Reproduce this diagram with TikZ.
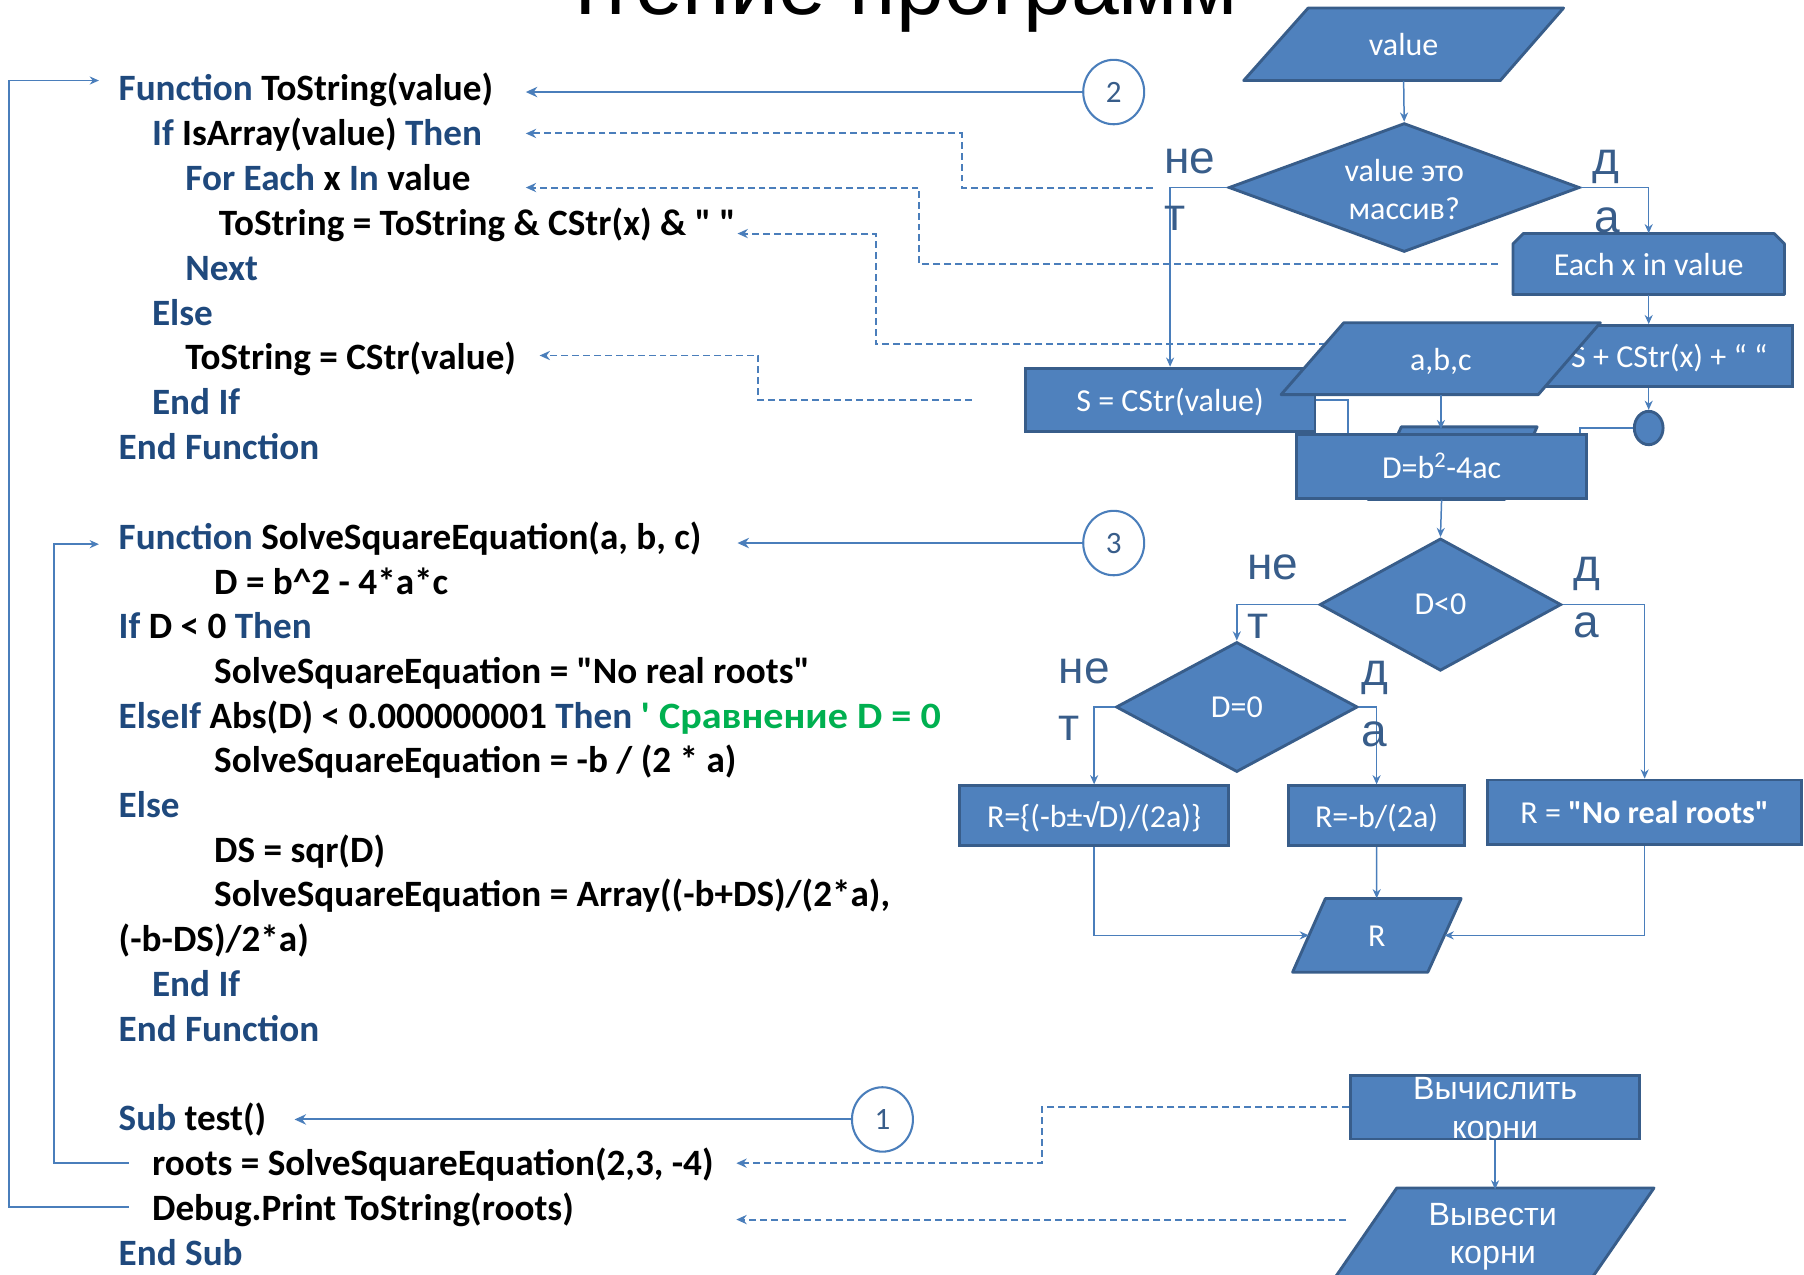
\documentclass[tikz,border=0pt]{standalone}
\usepackage{fontspec}
\usepackage{graphicx}
\setmainfont{Carlito}[Ligatures=TeXOff]
\newfontfamily\codefont{Carlito}[Ligatures=TeXOff]
\newfontfamily\arialfont{Liberation Sans}
\usetikzlibrary{arrows.meta,shapes.geometric}

\definecolor{kwblue}{RGB}{31,73,125}
\definecolor{shapefill}{RGB}{79,129,189}
\definecolor{shapeedge}{RGB}{56,93,138}
\definecolor{linkblue}{RGB}{74,126,187}
\definecolor{lblblue}{RGB}{56,93,138}
\definecolor{cmtgreen}{RGB}{0,176,80}

\newcommand\kw[1]{\textcolor{kwblue}{#1}}
\newcommand\cmt[1]{\textcolor{cmtgreen}{\scalebox{1.08}[1]{#1}}}

\tikzset{
  code/.style={anchor=base west, inner sep=0pt, text=black, font=\codefont\bfseries\fontsize{32.3}{38}\selectfont},
  flow/.style={font=\fontsize{27.8}{33}\selectfont, text=white},
  ftxt/.style={flow, inner sep=0pt, text height=25pt, text depth=5pt},
  box/.style={ftxt, rectangle, draw=shapeedge, fill=shapefill, line width=2.5pt},
  shp/.style={draw=shapeedge, fill=shapefill, line width=2.5pt, line join=round},
  dia/.style={diamond, draw=shapeedge, fill=shapefill, line width=2.5pt, inner sep=0pt, flow},
  lbl/.style={anchor=base west, inner sep=0pt, text=lblblue, font=\arialfont\fontsize{40}{48}\selectfont},
  num/.style={ellipse, draw=linkblue, line width=1.8pt, fill=white, inner sep=0pt, minimum width=53pt, minimum height=56pt, text=lblblue, font=\fontsize{27}{33}\selectfont},
  conn/.style={draw=linkblue, line width=1.3pt},
  arrowend/.style={-{Stealth[length=8pt,width=7pt]}},
  dconn/.style={draw=linkblue, line width=1.7pt, dash pattern=on 6pt off 3.5pt, -{Stealth[length=9pt,width=8pt]}},
  call/.style={draw=linkblue, line width=1.8pt, -{Stealth[length=10pt,width=9pt]}},
}

\begin{document}
\begin{tikzpicture}[x=1pt,y=-1pt]
\useasboundingbox (0,0) rectangle (1568,1108);

% heading, cut by the top edge
\node[anchor=base, inner sep=0pt, font=\arialfont\fontsize{74.7}{80}\selectfont] (title) at (772,13) {Чтение программ};

% ---------- program text ----------
\node[code] (c1) at (103,87.5)  {\kw{Function} ToString(value)};
\node[code] (c2) at (132,126.5) {\kw{If} IsArray(value) \kw{Then}};
\node[code] (c3) at (161,165.5) {\kw{For Each} x \kw{In} value};
\node[code] (c4) at (190,204.5) {ToString = ToString \& CStr(x) \& " "};
\node[code] (c5) at (161,243.5) {\kw{Next}};
\node[code] (c6) at (132,282.5) {\kw{Else}};
\node[code] (c7) at (161,321.5) {ToString = CStr(value)};
\node[code] (c8) at (132,360.5) {\kw{End If}};
\node[code] (c9) at (103,399.5) {\kw{End Function}};

\node[code] (s1)  at (103,477.5) {\kw{Function} SolveSquareEquation(a, b, c)};
\node[code] (s2)  at (186,516.4) {D = b\textasciicircum 2 - 4*a*c};
\node[code] (s3)  at (103,555.2) {\kw{If} D < 0 \kw{Then}};
\node[code] (s4)  at (186,594.1) {SolveSquareEquation = "No real roots"};
\node[code] (s5)  at (103,632.9) {\kw{ElseIf} Abs(D) < 0.000000001 \kw{Then} \cmt{' Сравнение D = 0}};
\node[code] (s6)  at (186,671.8) {SolveSquareEquation = -b / (2 * a)};
\node[code] (s7)  at (103,710.6) {\kw{Else}};
\node[code] (s8)  at (186,749.5) {DS = sqr(D)};
\node[code] (s9)  at (186,788.3) {SolveSquareEquation = Array((-b+DS)/(2*a),};
\node[code] (s10) at (103,827.2) {(-b-DS)/2*a)};
\node[code] (s11) at (132,866)   {\kw{End If}};
\node[code] (s12) at (103,904.9) {\kw{End Function}};

\node[code] (t1) at (103,983)  {\kw{Sub} test()};
\node[code] (t2) at (132,1022) {roots = SolveSquareEquation(2,3, -4)};
\node[code] (t3) at (132,1061) {Debug.Print ToString(roots)};
\node[code] (t4) at (103,1100) {\kw{End Sub}};

% ---------- call-order markers ----------
\node[num] (n2) at (968,80)  {2};
\node[num] (n3) at (968,472) {3};
\node[num] (n1) at (767,973) {1};

\coordinate (a1) at (457,80);
\coordinate (a2) at (457,116);
\coordinate (a3) at (457,163);
\coordinate (a4) at (641,203);
\coordinate (a7) at (469,309);
\coordinate (as1) at (641,472);
\coordinate (at1) at (256,973);
\coordinate (at2) at (640,1011);
\coordinate (at3) at (640,1060);
\coordinate (bt2) at (112,1011);
\coordinate (bt3) at (112,1049);
\coordinate (bc1) at (86,70);
\coordinate (bs1) at (86,473);

\draw[call] (n2) -- (a1);
\draw[call] (n3) -- (as1);
\draw[call] (n1) -- (at1);

% calls from the test routine to the functions
\draw[conn, line width=1.5pt, arrowend] (bt3) -- (8,1049) -- (8,70) -- (bc1);
\draw[conn, line width=1.5pt, arrowend] (bt2) -- (47,1011) -- (47,473) -- (bs1);

% ---------- flowchart of ToString ----------
\draw[shp] (1137,7) -- (1359,7) -- (1304,70) -- (1081,70) -- cycle;
\node[ftxt, minimum width=222pt, minimum height=63pt] (val) at (1220,38.5) {value};

\node[dia, aspect=2.7, minimum width=305pt, minimum height=112pt, align=center] (dq) at (1220.5,163) {\strut value это\\массив?};

\draw[shp] (1315,212) -- (1324,203) -- (1542,203) -- (1551,212) -- (1551,256) -- (1315,256) -- cycle;
\node[ftxt, minimum width=236pt, minimum height=53pt] (each) at (1433,229.5) {Each x in value};

\node[box, minimum width=214pt, minimum height=53pt] (sadd) at (1451,309.5) {S + CStr(x) + “ “};
\node[box, minimum width=252pt, minimum height=55pt] (scv) at (1017,347.5) {S = CStr(value)};

\node[dia, minimum width=25pt, minimum height=29pt, ellipse] (dot) at (1433,372) {};

% links from the flowchart to the program lines
\draw[dconn] ([xshift=-65pt]dq.west) -- (836,163) -- (836,116) -- (a2);
\draw[dconn] ([xshift=-13pt]each.west) -- (799,229.5) -- (799,163) -- (a3);
\draw[dconn] ([yshift=10.5pt]sadd.west) -- (761,299) -- (761,203) -- (a4);
\draw[dconn] ([xshift=-45pt]scv.west) -- (659,347.5) -- (659,309) -- (a7);

% ---------- flowchart of SolveSquareEquation ----------
\draw[shp] (1168,280.5) -- (1391,280.5) -- (1337,343) -- (1113.5,343) -- cycle;
\node[ftxt, minimum width=223pt, minimum height=62.5pt] (abc) at (1252.4,311.75) {a,b,c};

\draw[shp] (1218,371) -- (1336,371) -- (1308,434) -- (1189,434) -- cycle;
\coordinate (hidtop) at (1252,373);

\node[box, minimum width=252pt, minimum height=55pt] (dbox) at (1253,405.5) {D=b\textsuperscript{2}-4ac};

\node[dia, aspect=1.83, minimum width=210pt, minimum height=115pt] (d0) at (1252,525.5) {\raisebox{-1.5pt}{D<0}};
\node[dia, aspect=1.86, minimum width=210pt, minimum height=113pt] (dz) at (1075,614.5) {\raisebox{-1.5pt}{D=0}};

\node[box, minimum width=234pt, minimum height=52pt] (rpm) at (951,709) {R=\{(-b±√D)/(2a)\}};
\node[box, minimum width=153pt, minimum height=52pt] (rb) at (1196.5,709) {R=-b/(2a)};
\node[box, minimum width=273pt, minimum height=56pt] (nrr) at (1429.5,706) {R = \textbf{"No real roots"}};

\draw[shp] (1152,781) -- (1270,781) -- (1241,845) -- (1123.5,845) -- cycle;
\node[ftxt, minimum width=117.5pt, minimum height=64pt] (rout) at (1196.6,813) {R};

% ---------- flowchart of test ----------
\node[box, minimum width=251pt, minimum height=55pt] (compute) at (1299.5,962.5) {};
\node[flow, inner sep=0pt, align=center, font=\arialfont\fontsize{28}{33.5}\selectfont] (computetxt) at (1299.5,966) {Вычислить\\корни};

\draw[shp] (1214,1032.6) -- (1437.6,1032.6) -- (1381,1114.6) -- (1157.5,1114.6) -- cycle;
\node[flow, inner sep=0pt, align=center, minimum width=223.6pt, minimum height=82pt, font=\arialfont\fontsize{28}{33}\selectfont] (outp) at (1297.5,1075) {Вывести\\корни};

\coordinate (q6) at (1170,1060);
\draw[dconn] (compute.west) -- (906,962.5) -- (906,1011) -- (at2);
\draw[dconn] (q6) -- (at3);

% ---------- connectors ----------
\draw[conn, arrowend] (val.south) -- (dq.north);
\draw[conn, arrowend] (dq.west) -| (scv.north);
\draw[conn, arrowend] (dq.east) -| (each.north);
\draw[conn, arrowend] (each.south) -- (each.south |- sadd.north);
\draw[conn, arrowend] (each.south |- sadd.south) -- (dot.north);
\draw[conn] (dot.west) -| ([xshift=-7pt]dbox.north east);
\draw[conn] (scv.east) -| ([xshift=46pt]dbox.north west);
\draw[conn, arrowend] (abc.south) -- (abc.south |- hidtop);
\draw[conn, arrowend] (dbox.south) -- (d0.north);
\draw[conn, arrowend] (d0.west) -| (dz.north);
\draw[conn, arrowend] (d0.east) -| (nrr.north);
\draw[conn, arrowend] (dz.west) -| (rpm.north);
\draw[conn, arrowend] (dz.east) -| (rb.north);
\draw[conn, arrowend] (rb.south) -- (rout.north);
\draw[conn, arrowend] (rpm.south) |- (rout.west);
\draw[conn, arrowend] (nrr.south) |- (rout.east);
\draw[conn, arrowend] (compute.south) -- (compute.south |- outp.north);

% branch labels
\node[lbl] (ne1) at (1011.6,150.6) {не};
\node[lbl] (te1) at (1011.6,200)   {т};
\node[lbl] (da1) at (1384,151.5)   {д};
\node[lbl] (aa1) at (1386,202)     {а};
\node[lbl] (ne2) at (1084,504)     {не};
\node[lbl] (te2) at (1084,554.7)   {т};
\node[lbl] (da2) at (1367,505)     {д};
\node[lbl] (aa2) at (1367,553.7)   {а};
\node[lbl] (ne3) at (920,594.5)    {не};
\node[lbl] (te3) at (920,643.8)    {т};
\node[lbl] (da3) at (1183.4,595.5) {д};
\node[lbl] (aa3) at (1183.4,649)   {а};
\end{tikzpicture}
\end{document}
